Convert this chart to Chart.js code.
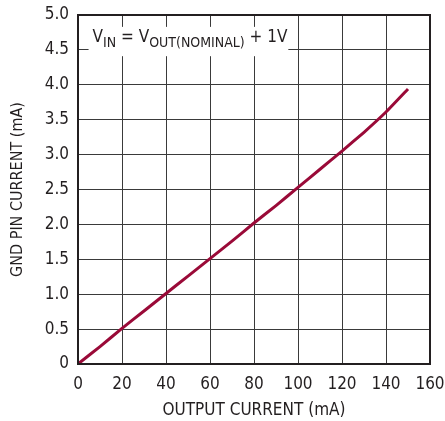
<!DOCTYPE html>
<html>
<head>
<meta charset="utf-8">
<script src="https://cdn.jsdelivr.net/npm/chart.js@4"></script>
<style>
html,body{margin:0;padding:0;background:#fff;}
#wrap{width:445px;height:421px;position:relative;}
</style>
</head>
<body>
<div id="wrap"><canvas id="c" width="445" height="421"></canvas></div>
<script>
const outputCurrent = [0,10,20,30,40,50,60,70,80,90,100,110,120,130,140,150];
const gndPinCurrent = [0,0.25,0.51,0.76,1.01,1.26,1.51,1.76,2.02,2.27,2.53,2.79,3.05,3.32,3.61,3.94];
const xTicks = [0,20,40,60,80,100,120,140,160];
const yTicks = ['0','0.5','1.0','1.5','2.0','2.5','3.0','3.5','4.0','4.5','5.0'];

const FONT = "'Liberation Sans Narrow','DejaVu Sans Condensed','Arial Narrow',sans-serif";

const annot = {
  id:'annot',
  beforeDatasetsDraw(chart){
    const ctx = chart.ctx, xs = chart.scales.x, ys = chart.scales.y;
    const x0 = xs.getPixelForValue(4.8), x1 = xs.getPixelForValue(95.6);
    const y0 = ys.getPixelForValue(4.83), y1 = ys.getPixelForValue(4.41);
    ctx.save();
    ctx.fillStyle = '#fff';
    ctx.fillRect(x0, y0, x1-x0, y1-y0);
    ctx.fillStyle = '#231f20';
    ctx.textBaseline = 'alphabetic';
    const big = "17px " + FONT, small = "14px " + FONT;
    let x = x0 + 4;
    const base = ys.getPixelForValue(4.5) - 8;
    const parts = [['V',big,0],['IN',small,5],[' = V',big,0],['OUT(NOMINAL)',small,5],[' + 1V',big,0]];
    for (const [t,f,dy] of parts){
      ctx.font = f;
      ctx.fillText(t, x, base+dy);
      x += ctx.measureText(t).width;
    }
    ctx.restore();
  }
};

const border = {
  id:'border',
  afterDraw(chart){
    const ctx = chart.ctx, a = chart.chartArea;
    ctx.save();
    ctx.strokeStyle = '#231f20';
    ctx.lineWidth = 2;
    ctx.strokeRect(a.left, a.top, a.right-a.left, a.bottom-a.top);
    ctx.restore();
  }
};

new Chart(document.getElementById('c'), {
  type:'line',
  data:{
    datasets:[{
      data: outputCurrent.map((v,i)=>({x:v, y:gndPinCurrent[i]})),
      borderColor:'#9a0a38',
      borderWidth:3,
      pointRadius:0,
      tension:0.1,
      fill:false
    }]
  },
  options:{
    responsive:false,
    animation:false,
    devicePixelRatio:1,
    layout:{padding:{left:0,right:15,top:15,bottom:0}},
    plugins:{legend:{display:false},tooltip:{enabled:false}},
    scales:{
      x:{
        type:'linear', min:0, max:160,
        afterBuildTicks(s){ s.ticks = xTicks.map(v=>({value:v})); },
        afterFit(s){ s.height = 57; s.paddingLeft = 0; s.paddingRight = 0; },
        grid:{color:'#3a3a3a', lineWidth:1, drawTicks:false},
        border:{display:false},
        ticks:{color:'#231f20', font:{family:FONT,size:17}, padding:10, maxRotation:0, autoSkip:false},
        title:{display:true, text:'OUTPUT CURRENT (mA)', color:'#231f20', font:{family:FONT,size:17}, padding:{top:4,bottom:0}}
      },
      y:{
        type:'linear', min:0, max:5,
        afterBuildTicks(s){ s.ticks = yTicks.map(v=>({value:parseFloat(v)})); },
        afterFit(s){ s.width = 78; s.paddingTop = 0; s.paddingBottom = 0; },
        grid:{color:'#3a3a3a', lineWidth:1, drawTicks:false},
        border:{display:false},
        ticks:{color:'#231f20', font:{family:FONT,size:17}, padding:9, autoSkip:false,
          callback:(v,i)=>yTicks[i]},
        title:{display:true, text:'GND PIN CURRENT (mA)', color:'#231f20', font:{family:FONT,size:16}, padding:{top:8,bottom:0}}
      }
    }
  },
  plugins:[annot,border]
});
</script>
</body>
</html>
